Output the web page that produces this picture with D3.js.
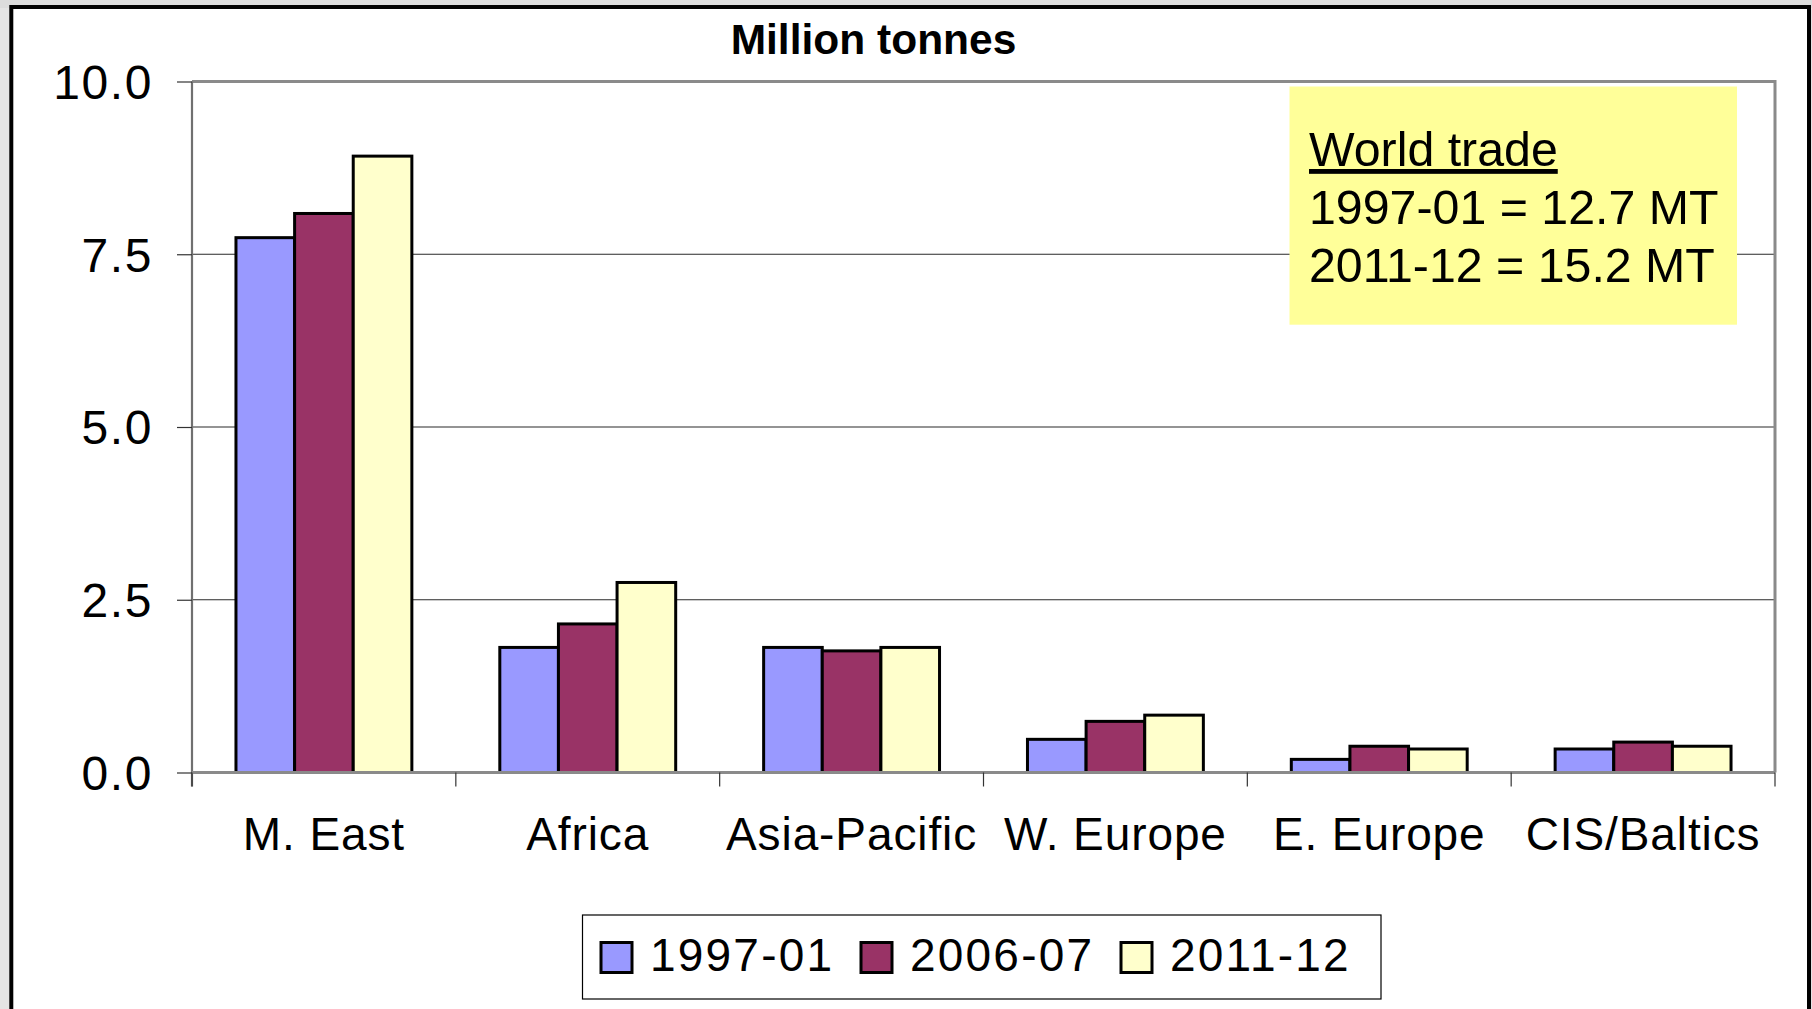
<!DOCTYPE html>
<html>
<head>
<meta charset="utf-8">
<script src="https://cdn.jsdelivr.net/npm/d3@7"></script>
<style>
  html, body { margin: 0; padding: 0; background: #e4e4e4; }
  svg { display: block; }
  text { font-family: "Liberation Sans", Arial, Helvetica, sans-serif; fill: #000; }
</style>
</head>
<body>
<svg id="chart" width="1812" height="1009"></svg>
<script>
// Regional shares of traded volume, million tonnes
const categories = ["M. East", "Africa", "Asia-Pacific", "W. Europe", "E. Europe", "CIS/Baltics"];
const series = ["1997-01", "2006-07", "2011-12"];
const values1997 = [7.74, 1.81, 1.81, 0.48, 0.19, 0.34];
const values2006 = [8.09, 2.15, 1.76, 0.74, 0.38, 0.44];
const values2011 = [8.92, 2.75, 1.81, 0.83, 0.34, 0.38];
const yTickValues = [0, 2.5, 5, 7.5, 10];
const seriesColors = ["#9999FF", "#993366", "#FFFFCC"];
const titleText = "Million tonnes";
const noteLines = ["World trade", "1997-01 = 12.7 MT", "2011-12 = 15.2 MT"];

const seriesValues = [values1997, values2006, values2011];
const rows = categories.map((c, i) => ({
  category: c,
  bars: series.map((s, j) => ({ series: s, value: seriesValues[j][i], color: seriesColors[j] }))
}));

const svg = d3.select("#chart");
const W = 1812, H = 1009;
const plot = { left: 192, right: 1775, top: 81.5, bottom: 772.5 };

// page surround and the framed sheet
svg.append("rect").attr("x", 0).attr("y", 0).attr("width", W).attr("height", 8).attr("fill", "#dcdcdc");
svg.append("rect")
  .attr("x", 11.3).attr("y", 7)
  .attr("width", 1809 - 11.3).attr("height", H + 20)
  .attr("fill", "#ffffff").attr("stroke", "#000").attr("stroke-width", 4);

// scales
const x0 = d3.scaleBand().domain(categories).range([plot.left, plot.right])
  .paddingInner(1 / 3).paddingOuter(1 / 6);
const x1 = d3.scaleBand().domain(series).range([0, x0.bandwidth()]).padding(0);
const y = d3.scaleLinear().domain([0, 10]).range([plot.bottom, plot.top]);

// horizontal gridlines
svg.append("g").selectAll("line")
  .data(yTickValues.filter(v => v > 0 && v < 10))
  .join("line")
  .attr("x1", plot.left).attr("x2", plot.right)
  .attr("y1", d => y(d)).attr("y2", d => y(d))
  .attr("stroke", "#2a2a2a").attr("stroke-width", 1.2);

// plot area border (top and right)
svg.append("path")
  .attr("d", `M${plot.left},${y(10)}H${plot.right}V${plot.bottom}`)
  .attr("fill", "none").attr("stroke", "#8a8a8a").attr("stroke-width", 3);

// y axis
const yAxis = d3.axisLeft(y).tickValues(yTickValues).tickSize(15).tickPadding(24)
  .tickFormat(d3.format(".1f"));
const gy = svg.append("g").attr("transform", `translate(${plot.left},0)`).call(yAxis);
gy.select(".domain").attr("stroke", "#707070").attr("stroke-width", 2.2)
  .attr("d", `M0,${plot.top}V${plot.bottom + 14}`);
gy.selectAll(".tick line").attr("stroke", "#333").attr("stroke-width", 1.2);
gy.selectAll(".tick text")
  .attr("font-size", 48).attr("letter-spacing", 1.6).attr("dy", "0.35em")
  .style("font-family", "'Liberation Sans', Arial, sans-serif");

// bars
const groups = svg.append("g").selectAll("g")
  .data(rows).join("g")
  .attr("transform", d => `translate(${x0(d.category)},0)`);
groups.selectAll("rect")
  .data(d => d.bars).join("rect")
  .attr("x", d => x1(d.series))
  .attr("y", d => y(d.value))
  .attr("width", x1.bandwidth())
  .attr("height", d => y(0) - y(d.value))
  .attr("fill", d => d.color)
  .attr("stroke", "#000").attr("stroke-width", 3);

// x axis line, boundary ticks, category labels
const step = x0.step();
const boundaries = d3.range(categories.length + 1).map(i => plot.left + i * step);
svg.append("line")
  .attr("x1", plot.left).attr("x2", plot.right)
  .attr("y1", plot.bottom).attr("y2", plot.bottom)
  .attr("stroke", "#8a8a8a").attr("stroke-width", 3);
svg.append("g").selectAll("line")
  .data(boundaries).join("line")
  .attr("x1", d => d).attr("x2", d => d)
  .attr("y1", plot.bottom).attr("y2", plot.bottom + 14)
  .attr("stroke", "#333").attr("stroke-width", 1.2);

const xAxis = d3.axisBottom(x0).tickSize(0).tickPadding(0);
const gx = svg.append("g").attr("transform", `translate(0,${plot.bottom})`).call(xAxis);
gx.select(".domain").remove();
gx.selectAll(".tick text")
  .attr("y", 77.5).attr("dy", 0)
  .attr("font-size", 46).attr("letter-spacing", 0.9)
  .style("font-family", "'Liberation Sans', Arial, sans-serif");

// title
svg.append("text")
  .attr("x", 873.5).attr("y", 54)
  .attr("text-anchor", "middle")
  .attr("font-size", 42.5).attr("font-weight", "bold")
  .text(titleText);

// note box
const note = svg.append("g");
note.append("rect")
  .attr("x", 1289.5).attr("y", 86.5).attr("width", 1737 - 1289.5).attr("height", 324.7 - 86.5)
  .attr("fill", "#FFFF99");
note.selectAll("text")
  .data(noteLines).join("text")
  .attr("x", 1309)
  .attr("y", (d, i) => 166 + i * 57.8)
  .attr("font-size", 48.3)
  .style("text-decoration", (d, i) => i === 0 ? "underline" : "none")
  .text(d => d);

// legend
const legend = svg.append("g");
legend.append("rect")
  .attr("x", 582.5).attr("y", 915).attr("width", 1381 - 582.5).attr("height", 84)
  .attr("fill", "#fff").attr("stroke", "#000").attr("stroke-width", 1.2);
const items = legend.selectAll("g")
  .data(series.map((s, i) => ({ label: s, color: seriesColors[i] })))
  .join("g")
  .attr("transform", (d, i) => `translate(${601 + i * 260},0)`);
items.append("rect")
  .attr("x", 0).attr("y", 942.5).attr("width", 31).attr("height", 30)
  .attr("fill", d => d.color).attr("stroke", "#000").attr("stroke-width", 3);
items.append("text")
  .attr("x", 49).attr("y", 971)
  .attr("font-size", 46).attr("letter-spacing", 2.2)
  .text(d => d.label);
</script>
</body>
</html>
